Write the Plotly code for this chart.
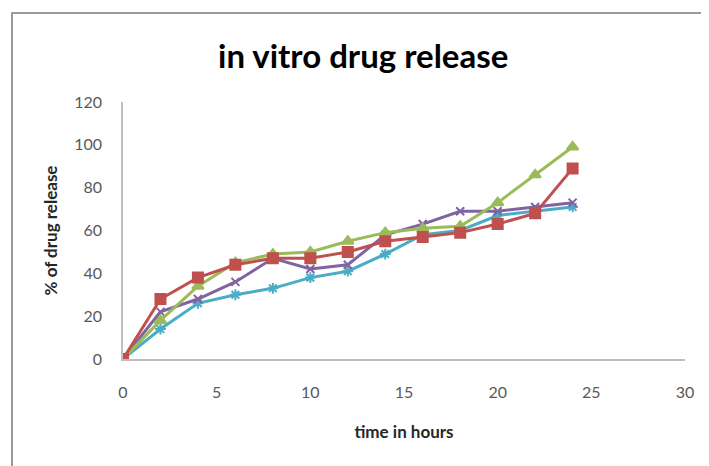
import plotly.graph_objects as go

time_h = [0, 2, 4, 6, 8, 10, 12, 14, 16, 18, 20, 22, 24]
series_red = [0, 28, 38, 44, 47, 47, 50, 55, 57, 59, 63, 68, 89]
series_green = [0, 18, 34, 45, 49, 50, 55, 59, 61, 62, 73, 86, 99]
series_purple = [0, 22, 28, 36, 47, 42, 44, 58, 63, 69, 69, 71, 73]
series_cyan = [0, 14, 26, 30, 33, 38, 41, 49, 58, 60, 67, 69, 71]

FONT = "Lato, Open Sans, Liberation Sans, Arial"

fig = go.Figure()

def add(y, color, symbol, name, msize=9):
    fig.add_trace(go.Scatter(
        x=time_h, y=y, mode="lines+markers", name=name,
        line=dict(color=color, width=3),
        marker=dict(symbol=symbol, size=msize, color=color,
                    line=dict(color=color, width=2)),
    ))

add(series_cyan, "#4BACC6", "asterisk-open", "F4", 9)
add(series_purple, "#8064A2", "x-thin-open", "F3", 8)
add(series_green, "#9BBB59", "triangle-up", "F2", 10)
add(series_red, "#C0504D", "square", "F1", 10)

fig.update_layout(
    width=709, height=466,
    margin=dict(l=115, r=32, t=94, b=115),
    paper_bgcolor="white", plot_bgcolor="white",
    showlegend=False,
    title=dict(text="<b>in vitro drug release</b>", x=0.501, xanchor="center",
               y=0.897, yanchor="middle",
               font=dict(family=FONT, size=33, color="#000000")),
    font=dict(family=FONT, color="#595959"),
)
fig.update_xaxes(range=[0, 30], dtick=5, tick0=0, showgrid=False, zeroline=False,
                 showline=True, linecolor="#BFBFBF", linewidth=1.5,
                 ticks="", ticklabelstandoff=18, tickfont=dict(size=16, color="#595959"),
                 title=dict(text="<b>time in hours</b>", standoff=26,
                            font=dict(size=17, color="#262626")))
fig.update_yaxes(range=[0, 120], dtick=20, tick0=0, showgrid=False, zeroline=False,
                 showline=True, linecolor="#BFBFBF", linewidth=1.5,
                 ticks="", ticklabelstandoff=16, tickfont=dict(size=16, color="#595959"),
                 title=dict(text="<b>% of drug release</b>", standoff=12,
                            font=dict(size=17, color="#262626")))

fig.add_shape(type="rect", xref="paper", yref="paper",
              x0=-0.1975, x1=1.0356, y0=-0.6, y1=1.346,
              line=dict(color="#9A9A9A", width=2), fillcolor="rgba(0,0,0,0)", layer="below")

fig.write_html("out.html")
